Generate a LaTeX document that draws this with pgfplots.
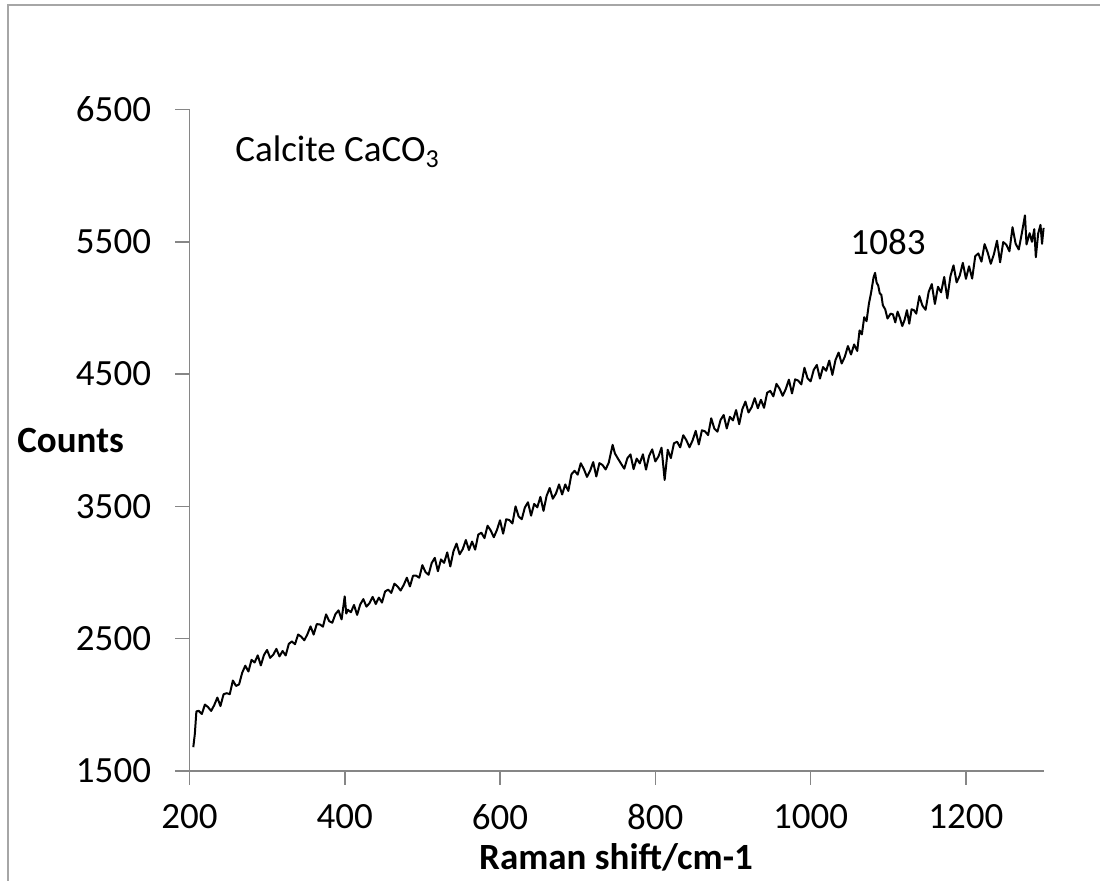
\documentclass[border=0pt]{standalone}
\usepackage{fontspec}
\setmainfont{Carlito}
\usepackage{pgfplots}
\pgfplotsset{compat=1.18}
\definecolor{axgray}{HTML}{868686}
\definecolor{bordergray}{HTML}{A6A6A6}
\begin{document}
\begin{tikzpicture}
\path[use as bounding box] (0,0) rectangle (550pt,-440.5pt);
\draw[bordergray, line width=1pt] (4.2pt,-600pt) -- (4.2pt,-2.5pt) -- (600pt,-2.5pt);
\begin{axis}[
  at={(94.7pt,-385.5pt)}, anchor=south west,
  scale only axis, width=427.1pt, height=330.75pt,
  xmin=200, xmax=1300, ymin=1500, ymax=6500,
  axis lines=left,
  axis line style={-, draw=axgray, line width=0.8pt},
  xtick={200,400,...,1200}, ytick={1500,2500,...,6500},
  tick align=outside, major tick length=7pt,
  tick style={draw=axgray, line width=0.8pt},
  font=\fontsize{18.5}{22}\selectfont,
  /pgf/number format/assume math mode=true,
  /pgf/number format/1000 sep={},
  xticklabel style={inner sep=0pt, anchor=north, yshift=-9.5pt},
  yticklabel style={inner sep=0pt, anchor=east, xshift=-12pt},
  clip=false,
]
\addplot[black, line width=1pt, line join=round] coordinates {
(205,1680) (207,1780) (209,1950)
(212,1955) (216,1931) (220,2002) (224,1983) (228,1954) (232,1998) (236,2055) (240,1991) (244,2080) (248,2088)
(252,2081) (256,2184) (260,2143) (264,2155) (268,2243) (272,2296) (276,2252) (280,2340) (284,2320) (288,2374)
(292,2298) (296,2376) (300,2415) (304,2355) (308,2379) (312,2423) (316,2366) (320,2407) (324,2373) (328,2461)
(332,2479) (336,2458) (340,2532) (344,2515) (348,2488) (352,2534) (356,2593) (360,2531) (364,2610) (368,2608)
(372,2591) (376,2684) (380,2633) (384,2621) (388,2685) (392,2714) (396,2646) (400,2820) (402,2690) (404,2719)
(408,2700) (412,2755) (416,2680) (420,2759) (424,2799) (428,2742) (432,2769) (436,2816) (440,2762) (444,2811)
(448,2773) (452,2857) (456,2871) (460,2846) (464,2916) (468,2895) (472,2864) (476,2906) (480,2961) (484,2895)
(488,2976) (492,2976) (496,2961) (500,3056) (504,3004) (508,2983) (512,3072) (516,3111) (520,3010) (524,3099)
(528,3073) (532,3152) (536,3046) (540,3160) (544,3219) (548,3138) (552,3177) (556,3246) (560,3170) (564,3234)
(568,3173) (572,3287) (576,3301) (580,3260) (584,3354) (588,3318) (592,3267) (596,3321) (600,3395) (604,3294)
(608,3403) (612,3397) (616,3371) (620,3500) (624,3424) (628,3403) (632,3492) (636,3531) (640,3430) (644,3519)
(648,3493) (652,3572) (656,3466) (660,3580) (664,3639) (668,3558) (672,3597) (676,3666) (680,3590) (684,3666)
(688,3617) (692,3743) (696,3769) (700,3740) (704,3826) (708,3782) (712,3723) (716,3769) (720,3835) (724,3726)
(728,3827) (732,3813) (736,3779) (740,3830) (745,3965) (748,3900) (752,3860) (756,3822) (760,3785) (764,3864)
(768,3893) (772,3782) (776,3861) (780,3825) (784,3894) (788,3778) (792,3882) (796,3931) (800,3840) (804,3877)
(808,3944) (812,3700) (816,3928) (820,3865) (824,3977) (828,3989) (832,3946) (836,4038) (840,4000) (844,3947)
(848,3999) (852,4071) (856,3968) (860,4075) (864,4067) (868,4039) (872,4166) (876,4088) (880,4065) (884,4153)
(888,4191) (892,4089) (896,4177) (900,4150) (904,4228) (908,4121) (912,4234) (916,4292) (920,4210) (924,4249)
(928,4318) (932,4242) (936,4306) (940,4245) (944,4359) (948,4373) (952,4332) (956,4426) (960,4390) (964,4336)
(968,4387) (972,4458) (976,4354) (980,4460) (984,4451) (988,4422) (992,4548) (996,4469) (1000,4445) (1004,4532)
(1008,4569) (1012,4466) (1016,4553) (1020,4525) (1024,4602) (1028,4494) (1032,4606) (1036,4663) (1040,4580) (1044,4631)
(1048,4712) (1052,4648) (1056,4724) (1060,4675) (1063,4830) (1066,4800) (1069,4930) (1072,4900) (1075,5030) (1078,5120)
(1081,5230) (1083,5265) (1085,5190) (1087,5170) (1089,5110) (1091,5100) (1093,5020) (1096,4990) (1099,4920)
(1103,4957) (1106,4951) (1109,4891) (1112,4972) (1115,4924) (1118,4863) (1121,4909) (1124,4983) (1127,4881) (1130,4990)
(1133,4983) (1136,4957) (1140,5090) (1144,5017) (1148,4986) (1152,5121) (1156,5180) (1160,5030) (1164,5160) (1168,5118)
(1172,5234) (1176,5072) (1180,5240) (1184,5322) (1188,5193) (1192,5244) (1196,5341) (1200,5220) (1204,5315) (1208,5222)
(1212,5392) (1216,5412) (1220,5350) (1224,5482) (1228,5419) (1232,5334) (1236,5406) (1240,5508) (1244,5345) (1248,5498)
(1252,5478) (1256,5428) (1260,5610) (1264,5485) (1268,5442) (1272,5565) (1276,5700) (1278,5480) (1282,5565) (1285,5500)
(1288,5596) (1290,5384) (1293,5562) (1296,5628) (1298,5485) (1300,5605)
};
\end{axis}
\node[anchor=base west, inner sep=0pt, font=\fontsize{18.5}{22}\selectfont] at (117.5pt,-81pt) {Calcite CaCO\textsubscript{3}};
\node[anchor=base, inner sep=0pt, font=\fontsize{18.5}{22}\selectfont] at (444pt,-127.5pt) {1083};
\node[anchor=base west, inner sep=0pt, font=\fontsize{18.5}{22}\selectfont\bfseries] at (8.5pt,-226.5pt) {Counts};
\node[anchor=base, inner sep=0pt, font=\fontsize{18.5}{22}\selectfont\bfseries] at (308pt,-435pt) {Raman shift/cm-1};
\end{tikzpicture}
\end{document}
